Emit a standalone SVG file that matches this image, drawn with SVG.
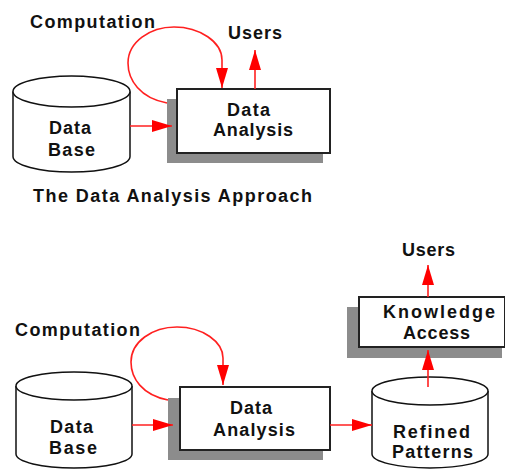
<svg xmlns="http://www.w3.org/2000/svg" width="505" height="470" viewBox="0 0 505 470">
<style>
.cyl{fill:#fff;stroke:#111;stroke-width:1.5}
.box{fill:#fff;stroke:#222;stroke-width:2}
.sh{fill:#8c8c8c}
.t{font-family:"Liberation Sans",Arial,sans-serif;font-weight:bold;font-size:18px;fill:#111}
.c{fill:none;stroke:#ff2020;stroke-width:1.6}
</style>
<defs>
<marker id="ah" markerUnits="userSpaceOnUse" markerWidth="22" markerHeight="12" refX="20" refY="6" orient="auto" viewBox="0 0 22 12">
<path d="M0,0 L20,6 L0,12 z" fill="#ff0000"/>
</marker>
</defs>
<rect width="505" height="470" fill="#fff"/>

<g id="top-computation"><text class="t" x="30" y="28" textLength="125" lengthAdjust="spacing">Computation</text></g>
<g id="top-users"><text class="t" x="228" y="38.5" textLength="54" lengthAdjust="spacing">Users</text></g>
<g id="top-database">
<path class="cyl" d="M13,91.5 L13,156.5 A58.5,15.5 0 0 0 130,156.5 L130,91.5"/>
<ellipse class="cyl" cx="71.5" cy="91.5" rx="58.5" ry="15.5"/>
<text class="t" x="49" y="133.5" textLength="42" lengthAdjust="spacing">Data</text>
<text class="t" x="48" y="155.5" textLength="47" lengthAdjust="spacing">Base</text>
</g>
<g id="top-analysis">
<rect class="sh" x="167" y="99" width="156" height="64"/>
<rect class="box" x="177" y="89" width="153" height="64"/>
<text class="t" x="227" y="115.5" textLength="43" lengthAdjust="spacing">Data</text>
<text class="t" x="213" y="136" textLength="80" lengthAdjust="spacing">Analysis</text>
</g>
<g id="caption"><text class="t" x="33" y="201.5" textLength="279" lengthAdjust="spacing">The Data Analysis Approach</text></g>

<g id="bot-users"><text class="t" x="402" y="255.5" textLength="53" lengthAdjust="spacing">Users</text></g>
<g id="bot-knowledge">
<rect class="sh" x="347" y="307" width="155" height="51"/>
<rect class="box" x="359" y="297" width="146" height="50"/>
<text class="t" x="383" y="317.5" textLength="112" lengthAdjust="spacing">Knowledge</text>
<text class="t" x="403" y="338.5" textLength="67" lengthAdjust="spacing">Access</text>
</g>
<g id="bot-computation"><text class="t" x="15" y="335.5" textLength="125" lengthAdjust="spacing">Computation</text></g>
<g id="bot-database">
<path class="cyl" d="M16,386 L16,454 A58,14 0 0 0 132,454 L132,386"/>
<ellipse class="cyl" cx="74" cy="386" rx="58" ry="14"/>
<text class="t" x="50" y="432.5" textLength="43" lengthAdjust="spacing">Data</text>
<text class="t" x="49" y="453.5" textLength="48" lengthAdjust="spacing">Base</text>
</g>
<g id="bot-analysis">
<rect class="sh" x="168" y="398" width="155" height="62"/>
<rect class="box" x="180" y="387" width="150" height="63"/>
<text class="t" x="230" y="413.5" textLength="42" lengthAdjust="spacing">Data</text>
<text class="t" x="213" y="435.5" textLength="82" lengthAdjust="spacing">Analysis</text>
</g>
<g id="bot-refined">
<path class="cyl" d="M372,391 L372,454 A58,14 0 0 0 488,454 L488,391"/>
<ellipse class="cyl" cx="430" cy="391" rx="58" ry="14"/>
<text class="t" x="393" y="437.5" textLength="77" lengthAdjust="spacing">Refined</text>
<text class="t" x="392" y="457.5" textLength="81" lengthAdjust="spacing">Patterns</text>
</g>

<g id="connectors">
<path class="c" marker-end="url(#ah)" d="M130,126 L172,126"/>
<path class="c" marker-end="url(#ah)" d="M167,103 C140,98 128,80 128,63 C128,42 150,27 174,27 C200,27 222,42 222,60 L222,88"/>
<path class="c" marker-end="url(#ah)" d="M255,89 L255,50"/>
<path class="c" marker-end="url(#ah)" d="M132,425 L173,425"/>
<path class="c" marker-end="url(#ah)" d="M168,400 C142,395 131,378 131,362 C131,342 152,327 177,327 C203,327 223,342 223,358 L223,385"/>
<path class="c" marker-end="url(#ah)" d="M330,425 L372,425"/>
<path class="c" marker-end="url(#ah)" d="M428,387 L428,350"/>
<path class="c" marker-end="url(#ah)" d="M428,297 L428,265"/>
</g>
</svg>
